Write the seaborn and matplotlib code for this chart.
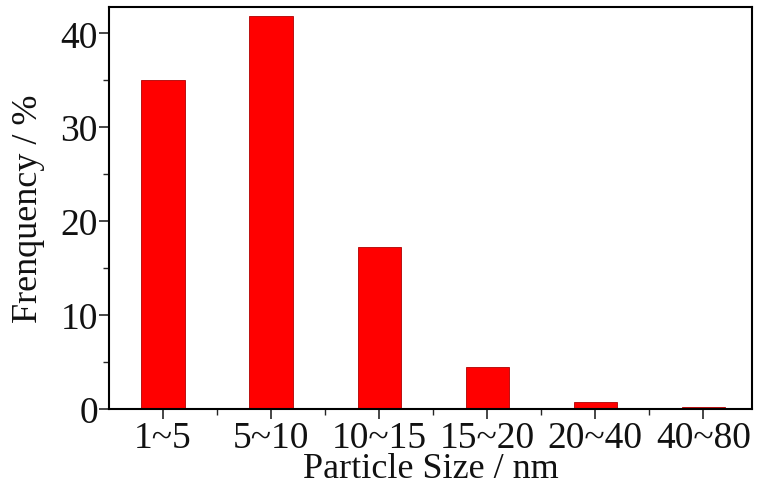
import matplotlib
matplotlib.use("Agg")
import matplotlib.pyplot as plt
import seaborn as sns
import pandas as pd
from matplotlib.ticker import MultipleLocator, FixedLocator

categories = ["1~5", "5~10", "10~15", "15~20", "20~40", "40~80"]
frequency = [35.0, 41.8, 17.2, 4.5, 0.75, 0.2]

df = pd.DataFrame({"size": categories, "freq": frequency})

sns.set_style("white")
plt.rcParams["font.family"] = ["Liberation Serif", "DejaVu Serif"]

fig = plt.figure(figsize=(7.63, 4.89), dpi=100)
ax = fig.add_axes([109/763, 1 - 410/489, (752-109)/763, (410-8)/489])

sns.barplot(data=df, x="size", y="freq", color="#ff0000", saturation=1,
            width=0.4, edgecolor="#b00000", linewidth=0.6, ax=ax)

ax.set_xlim(-0.5, 5.45)
ax.set_ylim(0, 42.8)
ax.yaxis.set_major_locator(MultipleLocator(10))
ax.yaxis.set_minor_locator(MultipleLocator(5))
ax.xaxis.set_minor_locator(FixedLocator([0.5, 1.5, 2.5, 3.5, 4.5]))

ax.tick_params(axis="both", which="major", direction="out", length=7, width=1.2,
               labelsize=27, bottom=True, left=True, top=False, right=False,
               labelcolor="#111111")
ax.tick_params(axis="both", which="minor", direction="out", length=4, width=1.0,
               bottom=True, left=True, top=False, right=False)
ax.tick_params(axis="x", pad=1)
ax.tick_params(axis="y", pad=1)

for s in ax.spines.values():
    s.set_visible(True)
    s.set_color("black")
    s.set_linewidth(1.5)

ax.set_xlabel("Particle Size / nm", fontsize=26, labelpad=-2, color="#111111")
ax.set_ylabel("Frenquency / %", fontsize=26, labelpad=11, color="#111111")

fig.savefig("out.png", dpi=100)
